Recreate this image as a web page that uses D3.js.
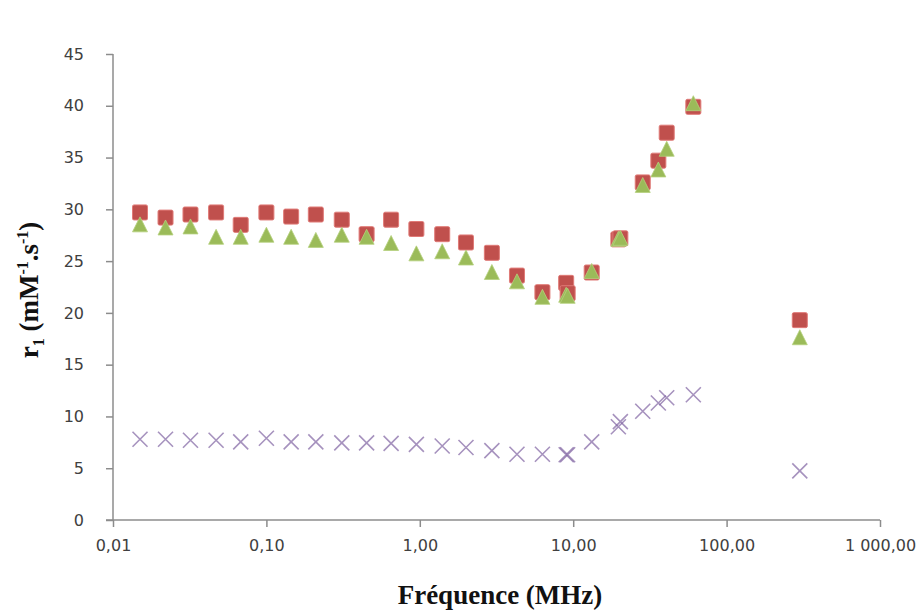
<!DOCTYPE html>
<html><head><meta charset="utf-8">
<script src="https://cdn.jsdelivr.net/npm/d3@7"></script>
<style>body{margin:0;background:#fff}</style>
</head><body>
<script>
const frequencies = [0.015, 0.022, 0.032, 0.047, 0.068, 0.1, 0.145, 0.21, 0.31, 0.45, 0.65, 0.95, 1.4, 2.0, 2.95, 4.3, 6.3, 9.0, 9.2, 13.2, 19.7, 20.3, 28.4, 35.9, 40.7, 60.7, 300];
const seriesSquare = [29.7, 29.2, 29.5, 29.7, 28.5, 29.7, 29.3, 29.5, 29.0, 27.6, 29.0, 28.1, 27.6, 26.8, 25.8, 23.6, 22.0, 22.9, 21.9, 23.9, 27.1, 27.2, 32.6, 34.7, 37.4, 39.9, 19.3];
const seriesTriangle = [28.5, 28.2, 28.3, 27.3, 27.3, 27.5, 27.3, 27.0, 27.5, 27.3, 26.7, 25.7, 25.9, 25.3, 23.9, 23.0, 21.5, 21.7, 21.6, 24.0, 27.1, 27.2, 32.3, 33.8, 35.8, 40.2, 17.6];
const seriesCross = [7.8, 7.8, 7.7, 7.7, 7.55, 7.9, 7.55, 7.55, 7.45, 7.45, 7.4, 7.3, 7.15, 7.0, 6.7, 6.35, 6.35, 6.3, 6.3, 7.55, 9.0, 9.5, 10.5, 11.3, 11.8, 12.1, 4.75];
const xTicks = [0.01, 0.1, 1, 10, 100, 1000];
const xTickLabels = ["0,01", "0,10", "1,00", "10,00", "100,00", "1 000,00"];
const yTicks = [0, 5, 10, 15, 20, 25, 30, 35, 40, 45];

const W = 923, H = 610;
const svg = d3.select("body").append("svg").attr("width", W).attr("height", H);
const x = d3.scaleLog().domain([0.01, 1000]).range([113, 880]);
const y = d3.scaleLinear().domain([0, 45]).range([520, 54]);

const axisColor = "#8c8c8c";
const labelColor = "#404040";

const yAxis = svg.append("g").attr("transform", "translate(113,0)")
  .call(d3.axisLeft(y).tickValues(yTicks).tickSize(7).tickPadding(22).tickFormat(d3.format("d")));
const xAxis = svg.append("g").attr("transform", "translate(0,520)")
  .call(d3.axisBottom(x).tickValues(xTicks).tickSize(7).tickPadding(13).tickFormat((d, i) => xTickLabels[i]));
[yAxis, xAxis].forEach(g => {
  g.select(".domain").attr("stroke", axisColor).attr("stroke-width", 1.5);
  g.selectAll(".tick line").attr("stroke", axisColor).attr("stroke-width", 1.5);
  g.selectAll("text").attr("fill", labelColor).style("font-family", "'DejaVu Sans', Verdana, sans-serif").style("font-size", "16px");
});
yAxis.select(".domain").attr("d", "M0,54V520");
xAxis.select(".domain").attr("d", "M106,0H880");

const data = frequencies.map((f, i) => ({f, sq: seriesSquare[i], tr: seriesTriangle[i], cr: seriesCross[i]}));

// Crosses
const cs = 7.5;
svg.append("g").selectAll("path").data(data).join("path")
  .attr("transform", d => `translate(${x(d.f)},${y(d.cr)})`)
  .attr("d", `M${-cs},${-cs}L${cs},${cs}M${-cs},${cs}L${cs},${-cs}`)
  .attr("stroke", "#8064A2").attr("stroke-width", 1.6).attr("stroke-opacity", 0.7).attr("fill", "none");

// Squares
const ss = 15;
svg.append("g").selectAll("rect").data(data).join("rect")
  .attr("x", d => x(d.f) - ss / 2).attr("y", d => y(d.sq) - ss / 2)
  .attr("width", ss).attr("height", ss).attr("rx", 1.5)
  .attr("fill", "#C0504D").attr("stroke", "#e07a77").attr("stroke-width", 1);

// Triangles
const tw = 15, th = 14;
svg.append("g").selectAll("path").data(data).join("path")
  .attr("transform", d => `translate(${x(d.f)},${y(d.tr)})`)
  .attr("d", `M0,${-th / 2 - 1}L${tw / 2},${th / 2}L${-tw / 2},${th / 2}Z`)
  .attr("fill", "#9BBB59").attr("stroke", "#b5d07e").attr("stroke-width", 0.8);

// Axis titles
svg.append("text").attr("x", 500).attr("y", 604).attr("text-anchor", "middle")
  .style("font-family", "'Liberation Serif', 'Times New Roman', serif").style("font-weight", "bold").style("font-size", "27px")
  .attr("fill", "#111").text("Fréquence (MHz)");

const yt = svg.append("text").attr("transform", "translate(38,290) rotate(-90)").attr("text-anchor", "middle")
  .style("font-family", "'Liberation Serif', 'Times New Roman', serif").style("font-weight", "bold").style("font-size", "27px")
  .attr("fill", "#111");
yt.append("tspan").text("r");
yt.append("tspan").attr("dy", 6).style("font-size", "16px").text("1");
yt.append("tspan").attr("dy", -6).text(" (mM");
yt.append("tspan").attr("dy", -10).style("font-size", "16px").text("-1");
yt.append("tspan").attr("dy", 10).text(".s");
yt.append("tspan").attr("dy", -10).style("font-size", "16px").text("-1");
yt.append("tspan").attr("dy", 10).text(")");
</script>
</body></html>
